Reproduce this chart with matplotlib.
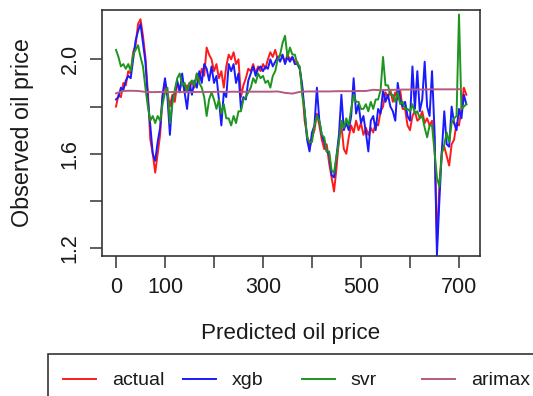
import numpy as np
import matplotlib
matplotlib.use("Agg")
import matplotlib.pyplot as plt
from matplotlib.patches import Rectangle

plt.rcParams['font.family'] = ['Liberation Sans', 'DejaVu Sans']

# ---- data (one value every 5 time steps) ----
actual = [1.80, 1.85, 1.84, 1.90, 1.89, 1.95, 1.94, 2.03, 2.06, 2.15,
          2.17, 2.10, 2.01, 1.86, 1.66, 1.60, 1.52, 1.60, 1.68, 1.84,
          1.90, 1.86, 1.80, 1.85, 1.82, 1.90, 1.87, 1.92, 1.86, 1.89,
          1.87, 1.91, 1.88, 1.94, 1.91, 1.96, 1.93, 2.05, 2.02, 2.00,
          1.95, 1.98, 1.92, 1.95, 1.88, 1.97, 2.02, 2.00, 2.03, 1.98,
          2.00, 1.84, 1.89, 1.92, 1.96, 1.95, 1.98, 1.94, 1.97, 1.95,
          1.98, 1.96, 2.00, 2.03, 2.01, 2.04, 2.00, 2.02, 2.01, 1.99,
          2.02, 2.00, 2.01, 1.99, 1.99, 1.96, 1.88, 1.74, 1.68, 1.62,
          1.67, 1.70, 1.77, 1.72, 1.66, 1.62, 1.64, 1.56, 1.50, 1.44,
          1.54, 1.66, 1.72, 1.62, 1.60, 1.67, 1.72, 1.69, 1.74, 1.70,
          1.73, 1.68, 1.71, 1.68, 1.71, 1.69, 1.73, 1.72, 1.78, 1.80,
          1.86, 1.84, 1.87, 1.82, 1.86, 1.83, 1.87, 1.79, 1.79, 1.72,
          1.70, 1.76, 1.78, 1.74, 1.75, 1.78, 1.73, 1.75, 1.72, 1.74,
          1.67, 1.22, 1.47, 1.61, 1.63, 1.59, 1.55, 1.64, 1.66, 1.73,
          1.72, 1.79, 1.88, 1.85]

xgb = [1.83, 1.84, 1.88, 1.87, 1.91, 1.93, 1.92, 2.00, 2.08, 2.12,
       2.15, 2.07, 1.99, 1.83, 1.72, 1.60, 1.57, 1.65, 1.71, 1.85,
       1.92, 1.84, 1.68, 1.83, 1.86, 1.91, 1.86, 1.94, 1.86, 1.79,
       1.90, 1.85, 1.91, 1.88, 1.95, 1.90, 1.98, 1.96, 1.91, 1.97,
       1.90, 1.93, 1.83, 1.72, 1.86, 1.84, 1.98, 1.95, 1.98, 1.90,
       1.94, 1.79, 1.84, 1.83, 1.91, 1.94, 1.97, 1.93, 1.96, 1.97,
       1.95, 1.97, 1.96, 2.00, 1.97, 1.99, 2.01, 1.99, 2.02, 1.98,
       2.01, 1.99, 2.01, 1.98, 1.98, 1.96, 1.89, 1.78, 1.66, 1.61,
       1.69, 1.72, 1.88, 1.74, 1.68, 1.65, 1.61, 1.60, 1.51, 1.50,
       1.59, 1.68, 1.85, 1.70, 1.73, 1.70, 1.76, 1.92, 1.77, 1.81,
       1.73, 1.76, 1.69, 1.61, 1.74, 1.76, 1.70, 1.79, 1.77, 1.87,
       1.82, 1.85, 1.80, 1.78, 1.74, 1.90, 1.83, 1.80, 1.82, 1.76,
       1.74, 1.97, 1.79, 1.95, 1.78, 1.83, 1.99, 1.80, 1.76, 1.95,
       1.70, 1.17, 1.40, 1.61, 1.78, 1.64, 1.63, 1.80, 1.73, 1.70,
       1.79, 1.75, 1.85, 1.81]

svr = [2.04, 2.01, 1.97, 1.98, 1.96, 1.98, 1.95, 2.02, 2.04, 2.06,
       2.01, 1.97, 1.88, 1.80, 1.74, 1.76, 1.73, 1.76, 1.74, 1.81,
       1.86, 1.88, 1.73, 1.81, 1.87, 1.92, 1.94, 1.89, 1.90, 1.86,
       1.90, 1.91, 1.89, 1.94, 1.90, 1.88, 1.84, 1.76, 1.83, 1.86,
       1.83, 1.79, 1.83, 1.77, 1.81, 1.75, 1.75, 1.72, 1.76, 1.73,
       1.78, 1.78, 1.83, 1.84, 1.86, 1.88, 1.92, 1.90, 1.94, 1.92,
       1.93, 1.90, 1.91, 1.88, 1.93, 1.95, 2.00, 2.02, 2.07, 2.10,
       2.01, 2.05, 2.02, 2.02, 1.98, 1.97, 1.85, 1.78, 1.67, 1.65,
       1.65, 1.72, 1.76, 1.74, 1.68, 1.67, 1.61, 1.61, 1.53, 1.52,
       1.59, 1.65, 1.74, 1.71, 1.75, 1.72, 1.79, 1.85, 1.82, 1.82,
       1.79, 1.79, 1.81, 1.78, 1.82, 1.79, 1.83, 1.83, 1.87, 2.01,
       1.89, 1.89, 1.85, 1.85, 1.82, 1.86, 1.81, 1.82, 1.79, 1.79,
       1.78, 1.81, 1.77, 1.78, 1.75, 1.76, 1.71, 1.67, 1.72, 1.72,
       1.61, 1.50, 1.46, 1.60, 1.64, 1.69, 1.65, 1.73, 1.75, 1.76,
       2.19, 1.79, 1.80, 1.81]

# arimax sampled every 15 time steps
arimax = [1.856, 1.866, 1.867, 1.866, 1.862, 1.861, 1.862, 1.861, 1.862, 1.862,
          1.861, 1.862, 1.862, 1.862, 1.863, 1.862, 1.863, 1.862, 1.863, 1.863,
          1.863, 1.863, 1.864, 1.858, 1.855, 1.862, 1.864, 1.864, 1.864, 1.864,
          1.865, 1.865, 1.865, 1.866, 1.866, 1.871, 1.869, 1.871, 1.871, 1.872,
          1.872, 1.872, 1.872, 1.873, 1.873, 1.873, 1.873, 1.874]

series_names = ["actual", "xgb", "svr", "arimax"]
series_colors = ["#ff1a1a", "#1a1aff", "#1f951f", "#b45a82"]

xticks = [0, 100, 200, 300, 400, 500, 600, 700]
xticklabels = ["0", "100", "", "300", "", "500", "", "700"]
yticks = [1.2, 1.4, 1.6, 1.8, 2.0]
yticklabels = ["1.2", "", "1.6", "", "2.0"]

# ---- figure ----
W, H = 533, 396
fig = plt.figure(figsize=(W / 100, H / 100), dpi=100)
ax = fig.add_axes([101.7 / W, 1 - 256 / H, (480 - 101.7) / W, (256 - 10) / H])

t_main = np.arange(len(actual)) * 5
t_arimax = np.arange(len(arimax)) * 15
lw = 1.4
lines = []
lines += ax.plot(t_main, actual, color=series_colors[0], lw=lw, label=series_names[0])
lines += ax.plot(t_main, xgb, color=series_colors[1], lw=lw, label=series_names[1])
lines += ax.plot(t_main, svr, color=series_colors[2], lw=lw, label=series_names[2])
lines += ax.plot(t_arimax, arimax, color=series_colors[3], lw=lw, label=series_names[3])

ax.set_xlim(-29.2, 742.9)
ax.set_ylim(1.167, 2.209)

dark = "#333333"
for sp in ax.spines.values():
    sp.set_color(dark)
    sp.set_linewidth(1.2)

ax.set_xticks(xticks)
ax.set_xticklabels(xticklabels)
ax.set_yticks(yticks)
ax.set_yticklabels(yticklabels)
ax.tick_params(axis='both', direction='out', length=8.8, width=1.1, color=dark,
               labelsize=15.5, labelcolor="#1a1a1a", pad=6.5)
for lab in ax.get_yticklabels():
    lab.set_rotation(90)
    lab.set_va('center')
    lab.set_ha('right')

ax.set_xlabel("Predicted oil price", fontsize=16.2, color="#1a1a1a", va='top')
ax.xaxis.set_label_coords(0.5, (256 - 323) / 246)
ax.set_ylabel("Observed oil price", fontsize=16.8, color="#1a1a1a", va='bottom')
ax.yaxis.set_label_coords((34 - 101.7) / 378.3, 0.5)

# ---- legend (R-style, equal column widths, box runs off the page) ----
frame = Rectangle((48.3 / W, -0.2), 1.0, (1 - 354 / H) + 0.2, transform=fig.transFigure,
                  fill=False, ec=dark, lw=1.2)
fig.add_artist(frame)
col_x = [63.3, 183.0, 301.7, 421.7]
for ln, cx in zip(lines, col_x):
    fig.legend([ln], [ln.get_label()], loc='center left',
               bbox_to_anchor=(cx / W, 1 - 380.5 / H), frameon=False,
               borderpad=0, borderaxespad=0, handlelength=33 / 19.4,
               handletextpad=16 / 19.4, fontsize=14, labelcolor="#1a1a1a")

fig.savefig("out.png", dpi=100)
